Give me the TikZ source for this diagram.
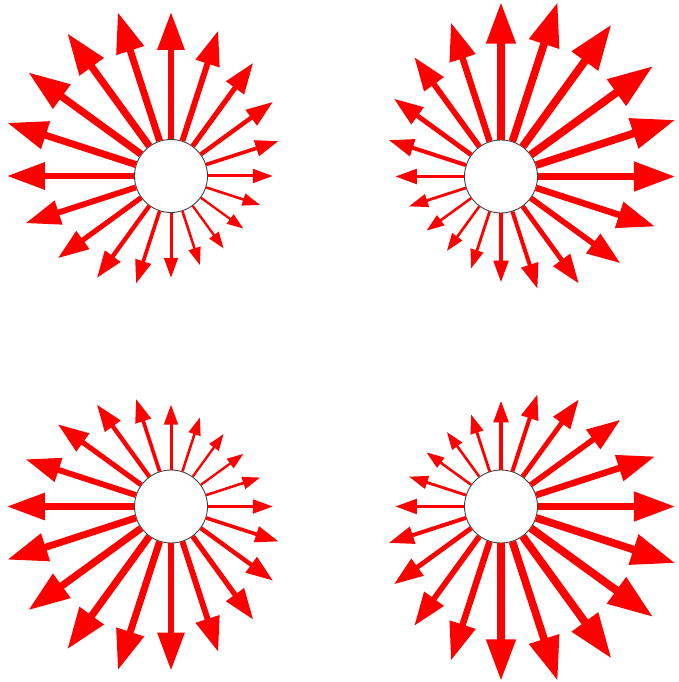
\documentclass[tikz,border=0pt]{standalone}
\usetikzlibrary{arrows.meta}
\begin{document}
\begin{tikzpicture}[x=1pt,y=1pt]
\useasboundingbox (0,0) rectangle (678,682);
\tikzset{hub/.style={circle, draw=black!75, fill=white, line width=0.9pt, minimum size=73pt, inner sep=0pt}}
\node[hub] (tl) at (171,506) {};
\node[hub] (tr) at (501,505.5) {};
\node[hub] (bl) at (171,175.5) {};
\node[hub] (br) at (501,175.5) {};
\foreach \hubname/\maxang/\cc/\dd/\ss in {tl/135/133/44/1, tr/45/140/48.5/1.1, bl/225/133/44/1, br/315/140/48.5/1.1} {
  \foreach \i in {0,...,19} {
    \pgfmathsetmacro{\ang}{18*\i}
    \pgfmathsetmacro{\cs}{cos(\ang-\maxang)}
    \pgfmathsetmacro{\len}{\cc+\dd*\cs}
    \pgfmathsetmacro{\lw}{\ss*(4.75+2.47*\cs)}
    \pgfmathsetmacro{\hl}{4.6+5.14*\lw}
    \pgfmathsetmacro{\hw}{0.68*\hl}
    \coordinate (\hubname-tip-\i) at ([shift={(\ang:\len pt)}]\hubname.center);
    \draw[red, line width=\lw pt, -{Triangle[length=\hl pt, width=\hw pt]}] (\hubname) -- (\hubname-tip-\i);
  }
}
\end{tikzpicture}
\end{document}
